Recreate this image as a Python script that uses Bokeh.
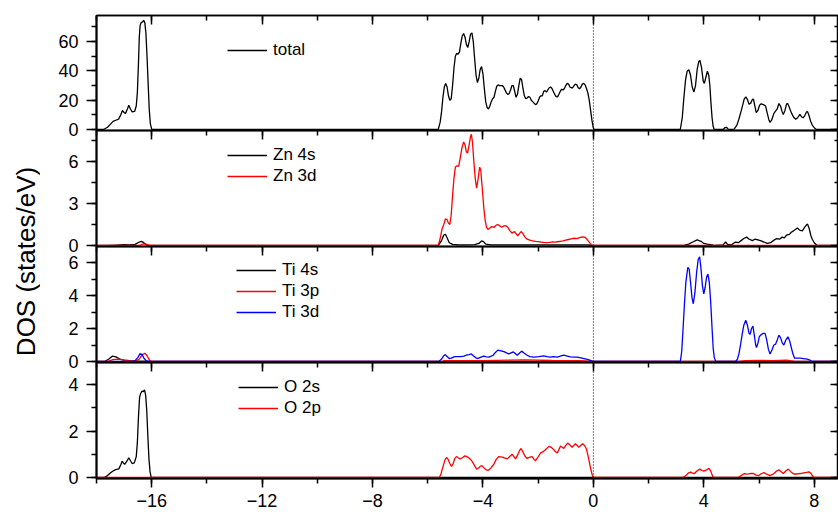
import math
from bokeh.plotting import figure
from bokeh.models import (Range1d, LinearAxis, SingleIntervalTicker, Span, Legend,
                          LegendItem, Label)
from bokeh.layouts import column, row
from bokeh.embed import file_html
from bokeh.resources import INLINE

# ---------------- data (energy eV, DOS states/eV) ----------------
E_MIN, E_MAX = -18.0, 8.88

total = [(-17.75, 0), (-17.6, 1.5), (-17.5, 3.5), (-17.4, 5.5), (-17.3, 6.3), (-17.2, 7), (-17.12, 10),
         (-17.06, 13), (-17.0, 11.5), (-16.95, 11), (-16.88, 14), (-16.83, 16.5), (-16.77, 14), (-16.71, 12),
         (-16.62, 12.3), (-16.56, 16), (-16.52, 25), (-16.48, 45), (-16.45, 63), (-16.42, 71), (-16.38, 73),
         (-16.33, 73.5), (-16.29, 74.5), (-16.25, 73), (-16.21, 66), (-16.17, 50), (-16.13, 32), (-16.09, 14),
         (-16.05, 4), (-16.0, 0),
         (-5.62, 0), (-5.55, 5), (-5.5, 12), (-5.45, 22), (-5.4, 29), (-5.35, 31.5), (-5.3, 29), (-5.25, 23),
         (-5.2, 20), (-5.15, 21), (-5.1, 30), (-5.05, 42), (-5.0, 50), (-4.95, 52), (-4.9, 51.5), (-4.85, 53),
         (-4.8, 59), (-4.75, 64), (-4.7, 65.5), (-4.65, 63), (-4.6, 58), (-4.55, 56), (-4.5, 60), (-4.45, 65),
         (-4.4, 66), (-4.35, 60), (-4.3, 48), (-4.25, 37), (-4.2, 32), (-4.15, 35), (-4.1, 41), (-4.05, 43),
         (-4.0, 38), (-3.95, 28), (-3.9, 19), (-3.85, 15), (-3.8, 14), (-3.75, 16), (-3.7, 19), (-3.65, 21),
         (-3.6, 22), (-3.55, 26), (-3.5, 29.5), (-3.45, 30.5), (-3.4, 30), (-3.3, 30), (-3.25, 29), (-3.15, 25),
         (-3.1, 24), (-3.05, 24.5), (-3.0, 27), (-2.95, 30), (-2.9, 30), (-2.85, 26), (-2.8, 22), (-2.75, 24),
         (-2.7, 30), (-2.65, 35), (-2.6, 34), (-2.55, 28), (-2.5, 23), (-2.45, 21), (-2.4, 21.5), (-2.35, 22.5),
         (-2.3, 22), (-2.25, 20), (-2.2, 19), (-2.1, 17), (-2.05, 17.5), (-2.0, 19.5), (-1.95, 22), (-1.9, 23),
         (-1.85, 23), (-1.8, 26), (-1.75, 26.5), (-1.7, 25.5), (-1.6, 28.5), (-1.55, 29), (-1.5, 28), (-1.45, 26),
         (-1.4, 24), (-1.35, 22.5), (-1.3, 22.3), (-1.25, 24), (-1.2, 26), (-1.15, 27.5), (-1.1, 27), (-1.05, 28),
         (-1.0, 30), (-0.95, 31.5), (-0.9, 31), (-0.85, 29), (-0.8, 28.5), (-0.75, 28.5), (-0.7, 30), (-0.65, 31),
         (-0.6, 30.5), (-0.55, 28.5), (-0.5, 27.8), (-0.45, 29), (-0.4, 31), (-0.35, 31.5), (-0.3, 30.5),
         (-0.25, 28), (-0.2, 25), (-0.15, 20), (-0.1, 13), (-0.05, 6), (0.0, 1), (0.03, 0),
         (3.15, 0), (3.22, 8), (3.28, 22), (3.34, 34), (3.4, 40), (3.46, 40.8), (3.52, 37), (3.58, 29),
         (3.64, 25.5), (3.7, 30), (3.76, 41), (3.82, 46.5), (3.86, 47.2), (3.92, 42), (3.98, 33), (4.02, 31.5),
         (4.08, 36), (4.13, 39.8), (4.18, 37), (4.22, 30), (4.26, 18), (4.3, 8), (4.34, 2), (4.38, 0),
         (4.7, 0), (4.76, 1.2), (4.82, 1.5), (4.88, 0.3), (5.0, 0), (5.1, 0.3), (5.2, 3), (5.27, 7), (5.33, 11),
         (5.4, 16), (5.46, 20.5), (5.52, 22.3), (5.58, 20.5), (5.64, 17.2), (5.7, 18), (5.76, 20.5), (5.8, 20.7),
         (5.85, 16), (5.9, 11.5), (5.96, 13), (6.02, 16.5), (6.08, 17.5), (6.16, 17), (6.24, 16), (6.3, 11),
         (6.36, 6.5), (6.4, 4.8), (6.46, 6.5), (6.54, 11), (6.6, 12.5), (6.66, 14), (6.72, 17.7), (6.78, 16),
         (6.84, 12), (6.88, 10.3), (6.94, 13), (7.0, 17.5), (7.04, 17.7), (7.1, 15), (7.17, 11.5), (7.25, 8.5),
         (7.33, 7), (7.4, 8), (7.48, 10.3), (7.55, 8.5), (7.6, 8), (7.66, 9.5), (7.72, 12), (7.76, 12.2),
         (7.82, 9), (7.87, 5.7), (7.93, 3), (8.0, 1.2), (8.08, 0)]

zn_4s = [(-17.6, 0), (-17.3, 0.03), (-17.0, 0.06), (-16.8, 0.04), (-16.6, 0.08), (-16.45, 0.25),
         (-16.38, 0.3), (-16.3, 0.22), (-16.2, 0.05), (-16.05, 0),
         (-5.62, 0), (-5.5, 0.35), (-5.42, 0.75), (-5.36, 0.8), (-5.3, 0.55), (-5.22, 0.2), (-5.1, 0.08),
         (-4.9, 0.05), (-4.6, 0.05), (-4.3, 0.06), (-4.15, 0.15), (-4.05, 0.33), (-3.98, 0.28), (-3.9, 0.1),
         (-3.7, 0.05), (-3.0, 0.05), (-2.0, 0.05), (-1.0, 0.05), (-0.2, 0.04), (0.0, 0),
         (3.25, 0), (3.45, 0.1), (3.6, 0.25), (3.76, 0.4), (3.9, 0.3), (4.0, 0.15), (4.13, 0.1), (4.3, 0.05),
         (4.4, 0), (4.7, 0.05), (4.79, 0.25), (4.86, 0.08), (5.0, 0.05), (5.15, 0.25), (5.25, 0.2), (5.35, 0.35),
         (5.45, 0.5), (5.55, 0.6), (5.65, 0.45), (5.76, 0.35), (5.85, 0.45), (5.96, 0.4), (6.05, 0.35),
         (6.18, 0.25), (6.3, 0.15), (6.42, 0.2), (6.52, 0.35), (6.64, 0.5), (6.74, 0.45), (6.84, 0.6),
         (6.92, 0.55), (7.0, 0.75), (7.1, 0.8), (7.17, 0.95), (7.25, 1.05), (7.32, 1.15), (7.39, 1.25),
         (7.47, 1.1), (7.57, 1.05), (7.65, 1.3), (7.72, 1.48), (7.76, 1.53), (7.82, 1.2), (7.88, 0.7),
         (7.93, 0.45), (8.0, 0.2), (8.1, 0)]

zn_3d = [(-16.5, 0), (-16.4, 0.05), (-16.3, 0.12), (-16.2, 0.1), (-16.1, 0.02), (-16.0, 0),
         (-5.62, 0), (-5.55, 0.5), (-5.48, 1.2), (-5.42, 1.5), (-5.36, 1.9), (-5.3, 1.85), (-5.25, 1.6),
         (-5.2, 1.5), (-5.15, 2.2), (-5.1, 3.6), (-5.05, 4.8), (-5.0, 5.6), (-4.95, 5.7), (-4.9, 5.65),
         (-4.87, 5.75), (-4.82, 6.3), (-4.76, 7.0), (-4.7, 7.4), (-4.65, 7.2), (-4.6, 6.7), (-4.56, 6.6),
         (-4.5, 7.2), (-4.45, 7.8), (-4.42, 7.95), (-4.38, 7.4), (-4.33, 6.0), (-4.28, 4.8), (-4.23, 4.1),
         (-4.18, 4.7), (-4.12, 5.6), (-4.08, 5.4), (-4.03, 4.2), (-3.97, 2.7), (-3.92, 1.8), (-3.87, 1.3),
         (-3.82, 1.15), (-3.75, 1.25), (-3.68, 1.35), (-3.6, 1.3), (-3.52, 1.45), (-3.47, 1.5), (-3.4, 1.42),
         (-3.32, 1.3), (-3.25, 1.4), (-3.17, 1.42), (-3.1, 1.3), (-3.02, 1.05), (-2.95, 0.88), (-2.9, 0.95),
         (-2.86, 1.0), (-2.8, 0.85), (-2.74, 0.7), (-2.68, 0.85), (-2.62, 1.0), (-2.55, 0.85), (-2.48, 0.6),
         (-2.4, 0.45), (-2.3, 0.38), (-2.2, 0.33), (-2.1, 0.3), (-2.0, 0.28), (-1.9, 0.25), (-1.8, 0.22),
         (-1.7, 0.2), (-1.6, 0.22), (-1.5, 0.25), (-1.4, 0.24), (-1.3, 0.27), (-1.2, 0.3), (-1.1, 0.33),
         (-1.0, 0.38), (-0.9, 0.43), (-0.8, 0.48), (-0.7, 0.52), (-0.6, 0.5), (-0.5, 0.56), (-0.4, 0.62),
         (-0.32, 0.6), (-0.25, 0.5), (-0.18, 0.32), (-0.1, 0.12), (-0.04, 0)]

ti_4s = [(-17.7, 0), (-17.55, 0.15), (-17.43, 0.32), (-17.3, 0.28), (-17.15, 0.15), (-17.0, 0.08),
         (-16.8, 0.05), (-16.5, 0.03), (-16.2, 0.02), (-16.0, 0)]

ti_3p = [(-17.6, 0), (-17.4, 0.12), (-17.2, 0.15), (-17.0, 0.08), (-16.8, 0.03), (-16.6, 0),
         (-16.45, 0.15), (-16.35, 0.4), (-16.25, 0.5), (-16.17, 0.35), (-16.08, 0.08), (-16.0, 0),
         (-5.5, 0), (-5.4, 0.05), (-4.0, 0.05), (-3.0, 0.08), (-2.5, 0.1), (-1.5, 0.06), (-0.5, 0.05), (0.0, 0),
         (5.3, 0), (5.5, 0.05), (6.0, 0.07), (6.5, 0.05), (7.0, 0.08), (7.3, 0)]

ti_3d = [(-16.7, 0), (-16.6, 0.05), (-16.5, 0.25), (-16.42, 0.48), (-16.35, 0.42), (-16.28, 0.2),
         (-16.2, 0.05), (-16.1, 0),
         (-5.6, 0), (-5.5, 0.15), (-5.42, 0.35), (-5.36, 0.42), (-5.3, 0.3), (-5.22, 0.18), (-5.15, 0.2),
         (-5.05, 0.28), (-4.99, 0.3), (-4.9, 0.3), (-4.8, 0.3), (-4.69, 0.33), (-4.6, 0.38), (-4.5, 0.42),
         (-4.42, 0.46), (-4.35, 0.35), (-4.25, 0.22), (-4.18, 0.18), (-4.1, 0.25), (-3.97, 0.32), (-3.88, 0.28),
         (-3.79, 0.27), (-3.7, 0.33), (-3.63, 0.38), (-3.55, 0.55), (-3.46, 0.69), (-3.35, 0.65), (-3.24, 0.6),
         (-3.15, 0.52), (-3.06, 0.46), (-2.98, 0.52), (-2.9, 0.58), (-2.83, 0.48), (-2.76, 0.38), (-2.68, 0.5),
         (-2.6, 0.63), (-2.5, 0.5), (-2.4, 0.38), (-2.3, 0.3), (-2.16, 0.27), (-1.98, 0.3), (-1.8, 0.34),
         (-1.68, 0.3), (-1.55, 0.27), (-1.45, 0.3), (-1.31, 0.27), (-1.2, 0.32), (-1.07, 0.38), (-0.95, 0.33),
         (-0.83, 0.28), (-0.7, 0.27), (-0.59, 0.27), (-0.45, 0.22), (-0.34, 0.18), (-0.25, 0.14), (-0.16, 0.1),
         (-0.08, 0.05), (0.0, 0),
         (3.15, 0), (3.2, 0.6), (3.25, 2.0), (3.3, 3.5), (3.35, 4.8), (3.42, 5.7), (3.47, 5.6), (3.52, 4.8),
         (3.57, 3.9), (3.62, 3.5), (3.68, 4.2), (3.74, 5.4), (3.8, 6.2), (3.85, 6.35), (3.9, 5.6), (3.95, 4.6),
         (4.0, 4.1), (4.05, 4.5), (4.1, 5.1), (4.15, 5.3), (4.2, 4.8), (4.25, 3.6), (4.3, 2.0), (4.34, 0.8),
         (4.38, 0.25), (4.43, 0),
         (5.15, 0), (5.22, 0.15), (5.27, 0.45), (5.33, 1.0), (5.39, 1.65), (5.45, 2.2), (5.52, 2.5), (5.58, 2.2),
         (5.64, 1.7), (5.68, 1.65), (5.73, 2.0), (5.78, 2.15), (5.83, 1.6), (5.88, 1.0), (5.91, 0.85),
         (5.96, 1.1), (6.01, 1.5), (6.06, 1.6), (6.14, 1.7), (6.22, 1.7), (6.28, 1.3), (6.34, 0.75), (6.4, 0.45),
         (6.47, 0.7), (6.54, 1.0), (6.6, 1.05), (6.66, 1.3), (6.72, 1.6), (6.78, 1.45), (6.85, 1.1), (6.9, 1.0),
         (6.97, 1.3), (7.05, 1.5), (7.11, 1.25), (7.17, 0.85), (7.23, 0.45), (7.29, 0.2), (7.4, 0.2), (7.5, 0.2),
         (7.6, 0.18), (7.75, 0.15), (7.85, 0.08), (7.92, 0)]

o_2s = [(-17.72, 0), (-17.6, 0.08), (-17.49, 0.2), (-17.4, 0.28), (-17.31, 0.34), (-17.19, 0.37),
        (-17.12, 0.55), (-17.07, 0.7), (-17.02, 0.62), (-16.98, 0.56), (-16.9, 0.7), (-16.83, 0.85),
        (-16.77, 0.72), (-16.71, 0.6), (-16.63, 0.63), (-16.56, 0.9), (-16.52, 1.5), (-16.48, 2.6),
        (-16.44, 3.45), (-16.4, 3.62), (-16.35, 3.72), (-16.3, 3.7), (-16.26, 3.78), (-16.22, 3.55),
        (-16.18, 2.9), (-16.14, 1.8), (-16.1, 0.8), (-16.06, 0.25), (-16.02, 0)]

o_2p = [(-5.58, 0), (-5.52, 0.15), (-5.47, 0.38), (-5.44, 0.5), (-5.38, 0.75), (-5.32, 0.86), (-5.27, 0.8),
        (-5.2, 0.6), (-5.14, 0.47), (-5.08, 0.6), (-5.02, 0.82), (-4.96, 0.9), (-4.9, 0.85), (-4.83, 0.8),
        (-4.75, 0.85), (-4.65, 0.93), (-4.55, 0.88), (-4.47, 0.8), (-4.39, 0.69), (-4.3, 0.5), (-4.23, 0.36),
        (-4.15, 0.42), (-4.08, 0.5), (-4.03, 0.5), (-3.95, 0.4), (-3.88, 0.33), (-3.81, 0.31), (-3.72, 0.4),
        (-3.61, 0.56), (-3.52, 0.78), (-3.42, 0.9), (-3.3, 0.88), (-3.2, 0.83), (-3.12, 0.8), (-3.03, 0.9),
        (-2.94, 1.0), (-2.88, 0.9), (-2.82, 0.8), (-2.75, 0.95), (-2.68, 1.15), (-2.62, 1.25), (-2.55, 1.1),
        (-2.47, 0.9), (-2.4, 0.82), (-2.3, 0.88), (-2.22, 0.9), (-2.15, 0.78), (-2.1, 0.72), (-2.02, 0.85),
        (-1.91, 1.06), (-1.84, 1.1), (-1.77, 1.16), (-1.69, 1.25), (-1.61, 1.34), (-1.53, 1.3), (-1.45, 1.22),
        (-1.38, 1.12), (-1.31, 1.05), (-1.25, 1.2), (-1.19, 1.36), (-1.13, 1.3), (-1.07, 1.25), (-1.0, 1.38),
        (-0.93, 1.48), (-0.85, 1.4), (-0.77, 1.3), (-0.71, 1.38), (-0.65, 1.45), (-0.59, 1.38), (-0.53, 1.3),
        (-0.46, 1.38), (-0.39, 1.45), (-0.32, 1.38), (-0.26, 1.25), (-0.22, 1.08), (-0.16, 0.75), (-0.12, 0.5),
        (-0.08, 0.3), (-0.04, 0.1), (0.0, 0),
        (3.25, 0), (3.35, 0.08), (3.45, 0.2), (3.52, 0.23), (3.6, 0.18), (3.66, 0.17), (3.75, 0.28),
        (3.86, 0.36), (3.93, 0.3), (4.0, 0.27), (4.1, 0.33), (4.19, 0.39), (4.26, 0.25), (4.32, 0.05), (4.36, 0),
        (5.25, 0), (5.35, 0.08), (5.47, 0.17), (5.55, 0.14), (5.63, 0.15), (5.72, 0.18), (5.8, 0.17),
        (5.9, 0.1), (5.99, 0.08), (6.08, 0.16), (6.18, 0.21), (6.28, 0.14), (6.4, 0.08), (6.52, 0.15),
        (6.62, 0.26), (6.72, 0.33), (6.8, 0.25), (6.88, 0.17), (6.97, 0.28), (7.06, 0.36), (7.15, 0.25),
        (7.26, 0.15), (7.38, 0.15), (7.5, 0.17), (7.62, 0.2), (7.72, 0.22), (7.81, 0.24), (7.88, 0.18),
        (7.94, 0.06), (8.0, 0)]

# panel y-axis settings: (range start, range end, tick interval)
PANEL_Y = [(-0.7, 77.85, 20), (-0.07, 8.22, 3), (-0.06, 6.97, 2), (-0.045, 4.955, 2)]

FONT = "Liberation Sans"
W_LABEL = 40
W_PANEL = 798
LEFT = 96 - W_LABEL


def xy(series):
    pts = [(E_MIN, 0.0)] + list(series) + [(E_MAX, 0.0)]
    return [p[0] for p in pts], [p[1] for p in pts]


def hidden_axis(ticker, tin, tmin):
    return LinearAxis(ticker=ticker, major_tick_in=tin, major_tick_out=0,
                      minor_tick_in=tmin, minor_tick_out=0,
                      major_tick_line_width=1.5, minor_tick_line_width=1.5,
                      major_label_text_font_size="1px", major_label_text_color=None,
                      major_label_standoff=0, axis_line_width=1.5)


def make_panel(idx, frame_h, top_border, bottom_border, bottom_axis):
    y0, y1, yint = PANEL_Y[idx]
    p = figure(width=W_PANEL, height=frame_h + top_border + bottom_border,
               x_range=Range1d(E_MIN, E_MAX), y_range=Range1d(y0, y1),
               output_backend="svg", toolbar_location=None,
               x_axis_location="below" if bottom_axis else None,
               min_border_left=LEFT, min_border_right=0,
               min_border_top=top_border, min_border_bottom=bottom_border)
    p.border_fill_alpha = 0
    p.background_fill_alpha = 0
    p.outline_line_color = "black"
    p.outline_line_width = 1.5
    p.grid.visible = False

    ya = p.yaxis[0]
    ya.ticker = SingleIntervalTicker(interval=yint, num_minor_ticks=2)
    ya.major_tick_out = 10
    ya.major_tick_in = 0
    ya.minor_tick_out = 5
    ya.minor_tick_in = 0
    ya.major_tick_line_width = 1.5
    ya.minor_tick_line_width = 1.5
    ya.axis_line_width = 2
    ya.major_label_standoff = 8
    ya.major_label_text_font = FONT
    ya.major_label_text_font_size = "18px"
    ya.major_label_text_color = "black"

    if bottom_axis:
        xa = p.xaxis[0]
        xa.ticker = SingleIntervalTicker(interval=4, num_minor_ticks=2)
        xa.major_tick_out = 9
        xa.major_tick_in = 0
        xa.minor_tick_out = 5
        xa.minor_tick_in = 0
        xa.major_tick_line_width = 1.5
        xa.minor_tick_line_width = 1.5
        xa.axis_line_width = 2
        xa.major_label_standoff = 6
        xa.major_label_text_font = FONT
        xa.major_label_text_font_size = "18px"
        xa.major_label_text_color = "black"

    p.add_layout(hidden_axis(SingleIntervalTicker(interval=4, num_minor_ticks=2), 9, 5), "above")
    p.add_layout(hidden_axis(SingleIntervalTicker(interval=yint, num_minor_ticks=2), 8, 4), "right")

    p.add_layout(Span(location=0, dimension="height", line_color="black",
                      line_dash="1 2", line_width=1))
    return p


def add_lines(p, specs, loc):
    items = []
    for label, series, color in specs:
        xs, ys = xy(series)
        r = p.line(xs, ys, line_color=color, line_width=1.3)
        items.append(LegendItem(label=label, renderers=[r]))
    leg = Legend(items=items, location=loc, border_line_color=None, background_fill_alpha=0,
                 padding=0, margin=0, spacing=1, glyph_width=40, glyph_height=20,
                 label_height=20, label_standoff=6, label_text_font=FONT,
                 label_text_font_size="17px", label_text_color="black")
    p.add_layout(leg)


p1 = make_panel(0, 115, 15, 10, False)
add_lines(p1, [("total", total, "black")], (131, 70))
p1.margin = (0, 0, -10, 0)

p2 = make_panel(1, 116, 10, 10, False)
add_lines(p2, [("Zn 4s", zn_4s, "black"), ("Zn 3d", zn_3d, "red")], (131, 60))
p2.margin = (-10, 0, -10, 0)

p3 = make_panel(2, 116, 10, 10, False)
add_lines(p3, [("Ti 4s", ti_4s, "black"), ("Ti 3p", ti_3p, "red"), ("Ti 3d", ti_3d, "blue")], (140, 40))
p3.margin = (-10, 0, -10, 0)

p4 = make_panel(3, 116, 10, 37, True)
add_lines(p4, [("O 2s", o_2s, "black"), ("O 2p", o_2p, "red")], (142, 60))
p4.margin = (-10, 0, 0, 0)

lab = figure(width=W_LABEL, height=515, x_range=Range1d(0, W_LABEL), y_range=Range1d(0, 515),
             output_backend="svg", toolbar_location=None, min_border=0,
             x_axis_location=None, y_axis_location=None)
lab.outline_line_color = None
lab.grid.visible = False
lab.border_fill_alpha = 0
lab.background_fill_alpha = 0
lab.add_layout(Label(x=25, y=254, text="DOS (states/eV)", angle=math.pi / 2,
                     text_align="center", text_baseline="middle", text_font=FONT,
                     text_font_size="26px", text_color="black"))

layout = row(lab, column(p1, p2, p3, p4, spacing=0), spacing=0)

with open("out.html", "w") as f:
    f.write(file_html(layout, INLINE))
